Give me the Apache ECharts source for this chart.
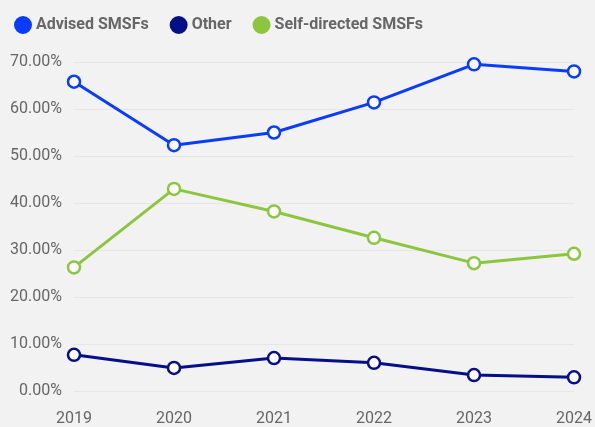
<!DOCTYPE html>
<html>
<head>
<meta charset="utf-8">
<script src="https://cdn.jsdelivr.net/npm/echarts@6/dist/echarts.min.js"></script>
<style>
  html, body { margin: 0; padding: 0; background: #f2f2f2; }
  #chart { width: 595px; height: 427px; }
</style>
</head>
<body>
<div id="chart"></div>
<script>
// years on the x axis
const years = ['2019', '2020', '2021', '2022', '2023', '2024'];
// shares in percent
const advised = [65.8, 52.3, 55.0, 61.4, 69.5, 68.0];
const other = [7.7, 4.9, 7.0, 6.0, 3.4, 2.9];
const selfDirected = [26.3, 43.0, 38.2, 32.6, 27.2, 29.2];

const colors = ['#0a3cff', '#050f87', '#8cc63f'];

const chart = echarts.init(document.getElementById('chart'));

function makeLine(name, data, color) {
  return {
    name: name,
    type: 'line',
    data: data,
    symbol: 'circle',
    symbolSize: 12,
    lineStyle: { width: 3, color: color },
    itemStyle: { color: '#ffffff', borderColor: color, borderWidth: 2.5 },
    emphasis: { disabled: true }
  };
}

const option = {
  backgroundColor: '#f2f2f2',
  animation: false,
  legend: {
    left: 9,
    top: 11,
    icon: 'circle',
    itemWidth: 16,
    itemHeight: 16,
    itemGap: 21,
    textStyle: { fontFamily: 'Roboto', fontSize: 16, fontWeight: 'bold', color: '#666666' },
    data: [
      { name: 'Advised SMSFs', itemStyle: { color: colors[0] } },
      { name: 'Other', itemStyle: { color: colors[1] } },
      { name: 'Self-directed SMSFs', itemStyle: { color: colors[2] } }
    ]
  },
  grid: { left: 74, right: 20, top: 62, bottom: 33 },
  xAxis: {
    type: 'category',
    data: years,
    boundaryGap: false,
    axisLine: { show: false },
    axisTick: { show: false },
    axisLabel: { fontFamily: 'Roboto', fontSize: 16, color: '#666666', margin: 20 }
  },
  yAxis: {
    type: 'value',
    min: 0,
    max: 70,
    interval: 10,
    axisLine: { show: false },
    axisTick: { show: false },
    splitLine: { lineStyle: { color: '#e6e6e6', width: 1 } },
    axisLabel: {
      fontFamily: 'Roboto', fontSize: 16, color: '#666666', margin: 12,
      formatter: v => v.toFixed(2) + '%'
    }
  },
  series: [
    makeLine('Advised SMSFs', advised, colors[0]),
    makeLine('Other', other, colors[1]),
    makeLine('Self-directed SMSFs', selfDirected, colors[2])
  ]
};

chart.setOption(option);
</script>
</body>
</html>
